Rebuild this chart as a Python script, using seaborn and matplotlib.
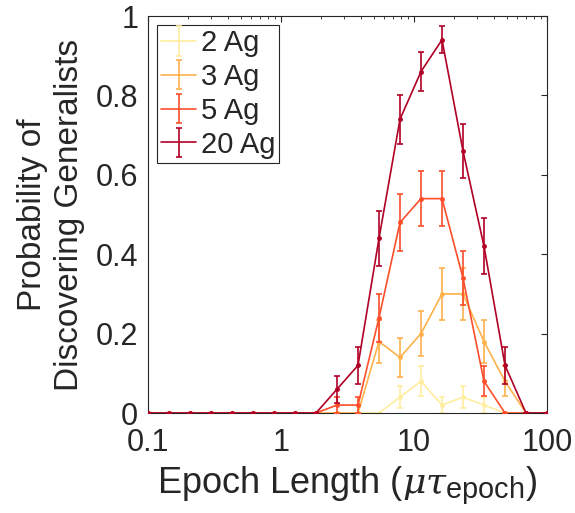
import numpy as np
import pandas as pd
import seaborn as sns
import matplotlib
matplotlib.use("Agg")
import matplotlib.pyplot as plt
import matplotlib._mathtext as mathtext_mod

# epoch lengths (log spaced)
epoch_length = [0.1, 0.1438, 0.2069, 0.2976, 0.4281, 0.6158, 0.8859, 1.274, 1.833, 2.637,
                3.793, 5.456, 7.848, 11.29, 16.24, 23.36, 33.60, 48.33, 69.52, 100.0]

labels = ["2 Ag", "3 Ag", "5 Ag", "20 Ag"]

p_2ag = [0, 0, 0, 0, 0, 0, 0, 0, 0, 0, 0, 0, 0.04, 0.08, 0.02, 0.04, 0.02, 0, 0, 0]
p_3ag = [0, 0, 0, 0, 0, 0, 0, 0, 0, 0, 0, 0.18, 0.14, 0.20, 0.30, 0.30, 0.18, 0.08, 0, 0]
p_5ag = [0, 0, 0, 0, 0, 0, 0, 0, 0, 0.02, 0.02, 0.24, 0.48, 0.54, 0.54, 0.34, 0.08, 0, 0, 0]
p_20ag = [0, 0, 0, 0, 0, 0, 0, 0, 0, 0.06, 0.12, 0.44, 0.74, 0.86, 0.94, 0.66, 0.42, 0.12, 0, 0]

err_2ag = [0, 0, 0, 0, 0, 0, 0, 0, 0, 0, 0, 0, 0.028, 0.038, 0.020, 0.028, 0.020, 0, 0, 0]
err_3ag = [0, 0, 0, 0, 0, 0, 0, 0, 0, 0, 0, 0.054, 0.049, 0.057, 0.065, 0.065, 0.054, 0.038, 0, 0]
err_5ag = [0, 0, 0, 0, 0, 0, 0, 0, 0, 0.020, 0.020, 0.060, 0.071, 0.070, 0.070, 0.067, 0.038, 0, 0, 0]
err_20ag = [0, 0, 0, 0, 0, 0, 0, 0, 0, 0.034, 0.046, 0.070, 0.062, 0.049, 0.034, 0.067, 0.070, 0.046, 0, 0]

colors = ["#FFEDA0", "#FEB24C", "#FC4E2A", "#B10026"]

sns.set_style("white")
plt.rcParams["font.family"] = ["Liberation Sans", "DejaVu Sans"]
plt.rcParams["mathtext.fontset"] = "custom"
plt.rcParams["mathtext.rm"] = "Liberation Sans"
plt.rcParams["mathtext.it"] = "DejaVu Serif:italic"
plt.rcParams["axes.edgecolor"] = "#262626"
plt.rcParams["axes.linewidth"] = 0.8
# subscript in the original is drawn fairly large
mathtext_mod.SHRINK_FACTOR = 0.8

fig = plt.figure(figsize=(5.75, 5.13), dpi=100)
ax = fig.add_axes([0.2574, 0.1949, 0.6939, 0.7739])

all_p = [p_2ag, p_3ag, p_5ag, p_20ag]
all_err = [err_2ag, err_3ag, err_5ag, err_20ag]

handles = []
for i, (lab, p, e, c) in enumerate(zip(labels, all_p, all_err, colors)):
    df = pd.DataFrame({"epoch": epoch_length, "prob": p})
    sns.lineplot(data=df, x="epoch", y="prob", color=c, lw=1.2, marker="o",
                 markersize=3.5, markeredgewidth=0, legend=False, ax=ax, zorder=2 + i)
    ax.errorbar(epoch_length, p, yerr=e, fmt="none", ecolor=c, elinewidth=1.2,
                capsize=2.5, capthick=1.2, zorder=2 + i)
    # proxy for legend handle (line + error bar, like the original)
    h = ax.errorbar([np.nan], [np.nan], yerr=[0.1], fmt="-", color=c, lw=1.2,
                    capsize=2.5, capthick=1.2, label=lab)
    handles.append(h)

ax.set_xscale("log")
ax.set_xlim(0.1, 100)
ax.set_ylim(0, 1)
ax.set_xticks([0.1, 1, 10, 100])
ax.set_xticklabels(["0.1", "1", "10", "100"])
ax.set_yticks([0, 0.2, 0.4, 0.6, 0.8, 1])
ax.set_yticklabels(["0", "0.2", "0.4", "0.6", "0.8", "1"])
ax.tick_params(which="both", direction="in", top=True, right=True,
               labelsize=22, labelcolor="#262626", color="#262626")
ax.tick_params(axis="y", pad=7)
ax.tick_params(axis="x", pad=11)
ax.tick_params(which="major", length=4, width=0.8)
ax.tick_params(which="minor", length=2.5, width=0.6)
for s in ax.spines.values():
    s.set_visible(True)

ax.set_xlabel(r"Epoch Length ($\mu\tau_{\mathregular{epoch}}$)", fontsize=26,
              color="#262626", labelpad=4)
ax.set_ylabel("Probability of\nDiscovering Generalists", fontsize=24,
              color="#262626", labelpad=8, linespacing=1.25)

leg = ax.legend(handles=handles, labels=labels, loc="upper left", fontsize=21,
                frameon=True, fancybox=False, edgecolor="#262626", framealpha=1,
                handlelength=1.2, handletextpad=0.15, labelspacing=0.2,
                borderpad=0.15, borderaxespad=0.3)
leg.get_frame().set_linewidth(0.8)

plt.savefig("out.png", dpi=100)
